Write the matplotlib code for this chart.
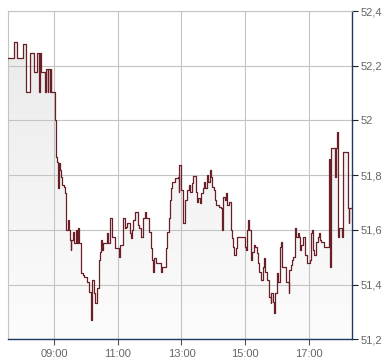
import numpy as np
import matplotlib
matplotlib.use("Agg")
import matplotlib.pyplot as plt
from matplotlib.ticker import FixedLocator

# minutes since midnight (step start) and price
minutes = [453, 463, 464, 470, 480, 486, 495, 502, 508, 511, 513, 515, 522, 525, 528, 529,
           532, 533, 534, 542, 544, 546, 547, 548, 551, 552, 555, 558, 561, 562, 565, 568,
           570, 571, 572, 576, 577, 580, 582, 585, 587, 590, 591, 594, 596, 602, 606, 609,
           610, 612, 615, 617, 621, 624, 626, 628, 630, 632, 639, 641, 646, 648, 655, 662,
           664, 670, 673, 675, 678, 682, 684, 687, 689, 692, 698, 700, 703, 708, 711, 713,
           718, 722, 724, 727, 729, 732, 741, 744, 750, 753, 756, 758, 760, 763, 768, 773,
           775, 776, 779, 780, 782, 786, 791, 794, 796, 799, 802, 807, 810, 812, 815, 817,
           820, 822, 825, 828, 830, 833, 835, 838, 841, 844, 846, 850, 854, 856, 859, 862,
           864, 866, 869, 873, 875, 878, 880, 883, 884, 899, 902, 904, 906, 907, 911, 914,
           917, 919, 922, 924, 927, 931, 933, 936, 938, 941, 946, 948, 949, 952, 955, 957,
           960, 962, 965, 967, 970, 977, 982, 983, 986, 988, 991, 994, 996, 999, 1001, 1004,
           1006, 1009, 1014, 1017, 1022, 1024, 1027, 1029, 1031, 1034, 1038, 1039, 1041, 1044,
           1049, 1058, 1061, 1062, 1069, 1072, 1074, 1075, 1077, 1083, 1084, 1094, 1096, 1097,
           1099]
prices = [52.228, 52.279, 52.287, 52.228, 52.279, 52.104, 52.246, 52.177, 52.246, 52.104,
          52.246, 52.177, 52.104, 52.188, 52.104, 52.188, 52.104, 52.188, 52.104, 52.000,
          51.866, 51.848, 51.753, 51.843, 51.819, 51.794, 51.764, 51.758, 51.736, 51.599,
          51.636, 51.599, 51.563, 51.526, 51.563, 51.593, 51.551, 51.599, 51.551, 51.606,
          51.551, 51.514, 51.441, 51.435, 51.429, 51.410, 51.374, 51.295, 51.270, 51.417,
          51.368, 51.331, 51.386, 51.490, 51.520, 51.563, 51.526, 51.551, 51.587, 51.551,
          51.642, 51.575, 51.532, 51.502, 51.545, 51.642, 51.606, 51.612, 51.624, 51.588,
          51.570, 51.599, 51.636, 51.665, 51.618, 51.607, 51.574, 51.643, 51.665, 51.643,
          51.592, 51.534, 51.490, 51.446, 51.497, 51.479, 51.446, 51.464, 51.534, 51.592,
          51.643, 51.709, 51.753, 51.775, 51.789, 51.793, 51.738, 51.837, 51.811, 51.746,
          51.625, 51.709, 51.746, 51.764, 51.739, 51.771, 51.797, 51.738, 51.702, 51.715,
          51.698, 51.735, 51.753, 51.775, 51.753, 51.800, 51.775, 51.819, 51.793, 51.757,
          51.746, 51.709, 51.691, 51.684, 51.680, 51.599, 51.720, 51.709, 51.735, 51.691,
          51.702, 51.599, 51.570, 51.537, 51.508, 51.534, 51.574, 51.537, 51.526, 51.599,
          51.636, 51.599, 51.490, 51.519, 51.545, 51.537, 51.515, 51.479, 51.446, 51.417,
          51.464, 51.497, 51.446, 51.417, 51.354, 51.332, 51.369, 51.336, 51.296, 51.369,
          51.442, 51.409, 51.537, 51.555, 51.464, 51.409, 51.369, 51.453, 51.471, 51.490,
          51.501, 51.607, 51.574, 51.588, 51.574, 51.526, 51.545, 51.574, 51.508, 51.479,
          51.490, 51.588, 51.599, 51.526, 51.508, 51.555, 51.574, 51.588, 51.563, 51.555,
          51.537, 51.859, 51.464, 51.899, 51.793, 51.899, 51.958, 51.574, 51.606, 51.574,
          51.885, 51.680, 51.625, 51.680, 51.680]

x_ticks = [540, 660, 780, 900, 1020]
x_labels = ["09:00", "11:00", "13:00", "15:00", "17:00"]
y_ticks = [51.2, 51.4, 51.6, 51.8, 52.0, 52.2, 52.4]
y_labels = ["51,2", "51,4", "51,6", "51,8", "52", "52,2", "52,4"]

plt.rcParams['font.family'] = ['Liberation Sans', 'DejaVu Sans']

fig = plt.figure(figsize=(3.9, 3.64), dpi=100)
ax = fig.add_axes([8/390, 1 - 339.3/364, 344/390, 328.3/364])

xmin, xmax = 452.6, 1101.8
ymin, ymax = 51.2, 52.4
ax.set_xlim(xmin, xmax)
ax.set_ylim(ymin, ymax)

# gradient fill under the step line
fill = ax.fill_between(minutes, prices, ymin, step='post', facecolor='none',
                       edgecolor='none', linewidth=0)
grad = np.linspace(0, 1, 256).reshape(-1, 1)
top_c = np.array([233, 233, 233]) / 255
bot_c = np.array([252, 252, 252]) / 255
img_arr = top_c[None, None, :] * (1 - grad[:, :, None]) + bot_c[None, None, :] * grad[:, :, None]
img = ax.imshow(img_arr, extent=[xmin, xmax, ymin, ymax], origin='upper',
                aspect='auto', zorder=0, interpolation='bilinear')
img.set_clip_path(fill.get_paths()[0], transform=ax.transData)

ax.step(minutes, prices, where='post', color='#6a1f26', linewidth=0.9, zorder=3)

ax.xaxis.set_major_locator(FixedLocator(x_ticks))
ax.set_xticklabels(x_labels)
ax.yaxis.set_major_locator(FixedLocator(y_ticks))
ax.set_yticklabels(y_labels)

ax.yaxis.tick_right()
ax.grid(True, color='#c4c4c4', linewidth=0.8)
ax.tick_params(axis='y', direction='out', length=4, width=0.8, color='#222222',
               labelcolor='#666666', labelsize=8, pad=2)
ax.tick_params(axis='x', direction='out', length=4, width=0.8, color='#555555',
               labelcolor='#666666', labelsize=8, pad=3)

for side in ['left', 'top']:
    ax.spines[side].set_color('#c4c4c4')
    ax.spines[side].set_linewidth(0.8)
for side in ['right', 'bottom']:
    ax.spines[side].set_color('#1c3a64')
    ax.spines[side].set_linewidth(1.0)

fig.savefig('out.png', dpi=100)
